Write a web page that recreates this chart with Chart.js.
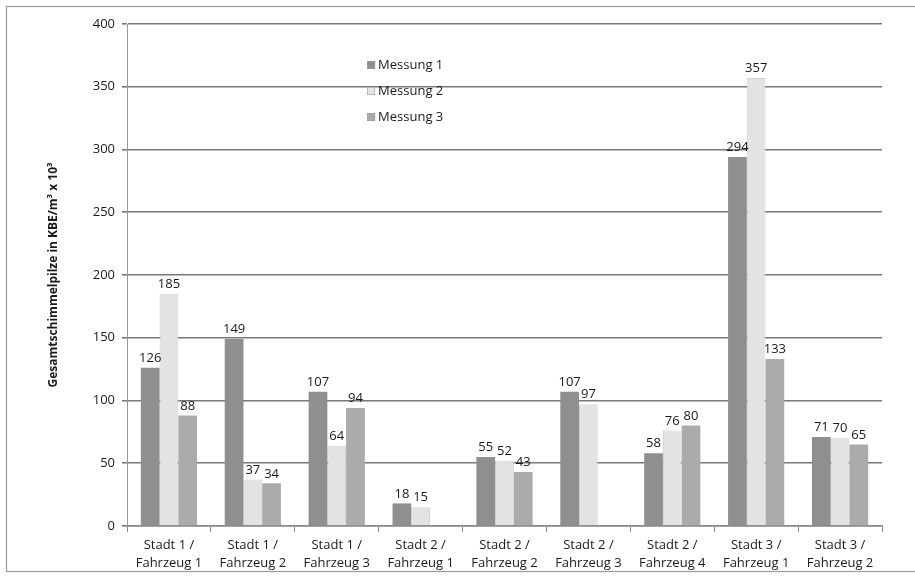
<!DOCTYPE html>
<html>
<head>
<meta charset="utf-8">
<script src="https://cdn.jsdelivr.net/npm/chart.js@4/dist/chart.umd.min.js"></script>
<style>
  html, body { margin: 0; padding: 0; background: #fff; }
  #wrap { width: 915px; height: 577px; position: relative; }
</style>
</head>
<body>
<div id="wrap"><canvas id="c" width="915" height="577"></canvas></div>
<script>
// Categories (city / vehicle)
const categories = [
  ["Stadt 1 /", "Fahrzeug 1"],
  ["Stadt 1 /", "Fahrzeug 2"],
  ["Stadt 1 /", "Fahrzeug 3"],
  ["Stadt 2 /", "Fahrzeug 1"],
  ["Stadt 2 /", "Fahrzeug 2"],
  ["Stadt 2 /", "Fahrzeug 3"],
  ["Stadt 2 /", "Fahrzeug 4"],
  ["Stadt 3 /", "Fahrzeug 1"],
  ["Stadt 3 /", "Fahrzeug 2"]
];

// Total mould counts per measurement (KBE/m³ x 10³)
const messung1 = [126, 149, 107, 18, 55, 107, 58, 294, 71];
const messung2 = [185, 37, 64, 15, 52, 97, 76, 357, 70];
const messung3 = [88, 34, 94, null, 43, null, 80, 133, 65];

const seriesNames = ["Messung 1", "Messung 2", "Messung 3"];
const yTicks = [0, 50, 100, 150, 200, 250, 300, 350, 400];

const FONT = "'Open Sans', Lato, sans-serif";

// Outer chart frame
const framePlugin = {
  id: 'frame',
  beforeDraw(chart) {
    const ctx = chart.ctx;
    ctx.save();
    ctx.strokeStyle = '#9a9a9a';
    ctx.lineWidth = 1.2;
    ctx.strokeRect(6.5, 6.5, 915, 565);
    ctx.restore();
  }
};

// Value labels above each bar
const valueLabels = {
  id: 'valueLabels',
  afterDatasetsDraw(chart) {
    const ctx = chart.ctx;
    ctx.save();
    ctx.font = "13px " + FONT;
    ctx.fillStyle = '#1a1a1a';
    ctx.textAlign = 'center';
    ctx.textBaseline = 'bottom';
    chart.data.datasets.forEach((ds, i) => {
      const meta = chart.getDatasetMeta(i);
      meta.data.forEach((bar, j) => {
        const v = ds.data[j];
        if (v === null || v === undefined) return;
        ctx.fillText(String(v), bar.x, bar.y - 3);
      });
    });
    ctx.restore();
  }
};

// Legend drawn inside the plot area
const innerLegend = {
  id: 'innerLegend',
  afterDraw(chart) {
    const ctx = chart.ctx;
    const a = chart.chartArea;
    const x0 = a.left + 0.318 * (a.right - a.left);
    const y0 = a.top + 41;
    ctx.save();
    ctx.font = "13px " + FONT;
    ctx.textBaseline = 'middle';
    chart.data.datasets.forEach((ds, i) => {
      const y = y0 + i * 26;
      ctx.fillStyle = ds.backgroundColor;
      ctx.fillRect(x0, y - 4, 8, 8);
      ctx.strokeStyle = '#9a9a9a';
      ctx.lineWidth = 0.6;
      ctx.strokeRect(x0 + 0.3, y - 3.7, 7.4, 7.4);
      ctx.fillStyle = '#1a1a1a';
      ctx.fillText(ds.label, x0 + 11, y);
    });
    ctx.restore();
  }
};

const data = {
  labels: categories,
  datasets: [
    { label: seriesNames[0], data: messung1, backgroundColor: '#8f8f8f', borderColor: '#8a8a8a', borderWidth: 0 },
    { label: seriesNames[1], data: messung2, backgroundColor: '#e3e3e3', borderColor: '#d2d2d2', borderWidth: 1 },
    { label: seriesNames[2], data: messung3, backgroundColor: '#ababab', borderColor: '#a4a4a4', borderWidth: 0 }
  ]
};

new Chart(document.getElementById('c'), {
  type: 'bar',
  data,
  plugins: [framePlugin, valueLabels, innerLegend],
  options: {
    responsive: false,
    animation: false,
    devicePixelRatio: 1,
    layout: { padding: { left: 0, right: 33, top: 24, bottom: 0 } },
    datasets: { bar: { categoryPercentage: 0.67, barPercentage: 1.0 } },
    plugins: {
      legend: { display: false },
      tooltip: { enabled: false }
    },
    scales: {
      x: {
        grid: { display: true, offset: true, drawOnChartArea: false, color: '#8a8a8a', tickLength: 6, lineWidth: 1 },
        border: { display: true, color: '#8a8a8a', width: 1.5 },
        ticks: { font: { size: 13, family: FONT, lineHeight: 1.35 }, color: '#1a1a1a', padding: 5, maxRotation: 0, autoSkip: false },
        afterFit(scale) { scale.height = 51; }
      },
      y: {
        min: 0, max: 400,
        afterBuildTicks(scale) { scale.ticks = yTicks.map(v => ({ value: v })); },
        grid: { color: '#7f7476', lineWidth: 1.6, tickLength: 5, drawTicks: true },
        border: { display: true, color: '#9a9a9a', width: 1 },
        ticks: { font: { size: 13, family: FONT }, color: '#1a1a1a', padding: 7 },
        title: {
          display: true,
          text: 'Gesamtschimmelpilze in KBE/m³ x 10³',
          font: { size: 12, weight: 'bold', family: FONT },
          color: '#1a1a1a',
          padding: { top: 46, bottom: 0 }
        },
        afterFit(scale) { scale.width = 127; }
      }
    }
  }
});
</script>
</body>
</html>
